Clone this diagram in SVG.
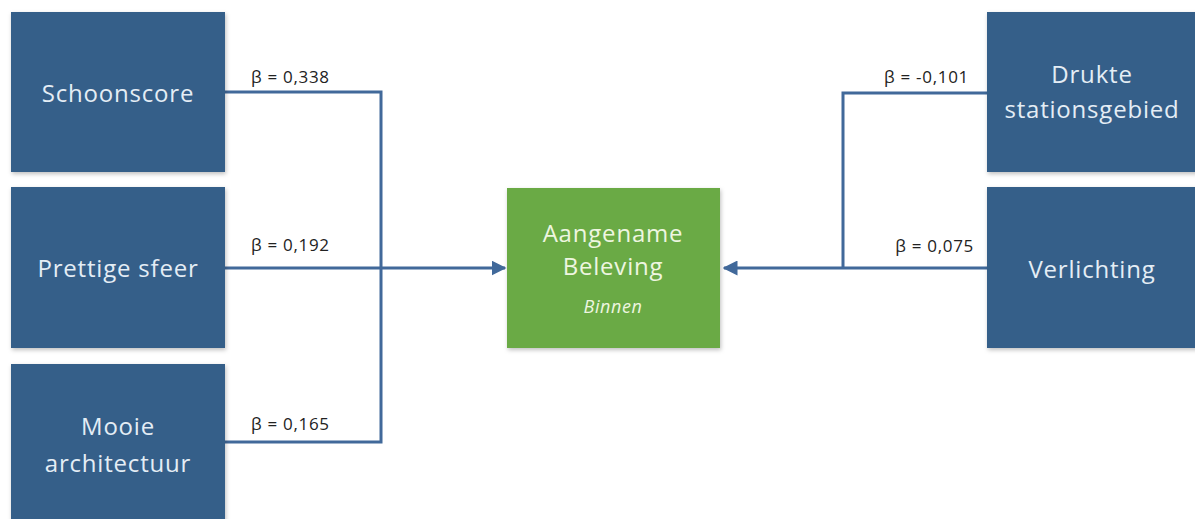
<svg xmlns="http://www.w3.org/2000/svg" width="1195" height="519" viewBox="0 0 1195 519">
<style>
.box{fill:#365F89;}
.green{fill:#6BAA45;}
.t{font-family:"Open Sans","Liberation Sans",sans-serif;font-size:24px;letter-spacing:0.8px;fill:#E4EDF5;text-anchor:middle;}
.tg{font-family:"Open Sans","Liberation Sans",sans-serif;font-size:24px;letter-spacing:0.8px;fill:#EEF6E0;text-anchor:middle;}
.ti{font-family:"Open Sans","Liberation Sans",sans-serif;font-size:18px;letter-spacing:0.6px;font-style:italic;fill:#EEF6E0;text-anchor:middle;}
.lbl{font-family:"Open Sans","Liberation Sans",sans-serif;font-size:17px;letter-spacing:0.7px;fill:#222;}
.c{fill:none;stroke:#41699A;stroke-width:3;}
</style>
<defs>
<filter id="sh" x="-10%" y="-10%" width="120%" height="120%">
<feDropShadow dx="1" dy="2" stdDeviation="2" flood-color="#000" flood-opacity="0.25"/>
</filter>
<marker id="ah" viewBox="0 0 10 10" refX="9" refY="5" markerWidth="5" markerHeight="5" markerUnits="strokeWidth" orient="auto">
<path d="M0,0 L10,5 L0,10 z" fill="#41699A"/>
</marker>
</defs>
<g id="connectors">
<polyline class="c" points="225,92 381,92 381,442 225,442"/>
<line class="c" x1="225" y1="268" x2="505" y2="268" marker-end="url(#ah)"/>
<polyline class="c" points="987,93 843,93 843,268"/>
<line class="c" x1="987" y1="268" x2="724" y2="268" marker-end="url(#ah)"/>
<text class="lbl" x="251" y="83">β = 0,338</text>
<text class="lbl" x="251" y="251">β = 0,192</text>
<text class="lbl" x="251" y="430">β = 0,165</text>
<text class="lbl" x="969" y="83" text-anchor="end">β = -0,101</text>
<text class="lbl" x="974" y="252" text-anchor="end">β = 0,075</text>
</g>
<g id="schoonscore">
<rect class="box" x="11" y="12" width="214" height="160" filter="url(#sh)"/>
<text class="t" x="118" y="102">Schoonscore</text>
</g>
<g id="prettige-sfeer">
<rect class="box" x="11" y="187" width="214" height="161" filter="url(#sh)"/>
<text class="t" x="118" y="277">Prettige sfeer</text>
</g>
<g id="mooie-architectuur">
<rect class="box" x="11" y="364" width="214" height="170" filter="url(#sh)"/>
<text class="t" x="118" y="435">Mooie</text>
<text class="t" x="118" y="472">architectuur</text>
</g>
<g id="aangename-beleving">
<rect class="green" x="507" y="188" width="213" height="160" filter="url(#sh)"/>
<text class="tg" x="613" y="242">Aangename</text>
<text class="tg" x="613" y="275">Beleving</text>
<text class="ti" x="613" y="313">Binnen</text>
</g>
<g id="drukte">
<rect class="box" x="987" y="12" width="220" height="160" filter="url(#sh)"/>
<text class="t" x="1092" y="83">Drukte</text>
<text class="t" x="1092" y="118">stationsgebied</text>
</g>
<g id="verlichting">
<rect class="box" x="987" y="187" width="220" height="161" filter="url(#sh)"/>
<text class="t" x="1092" y="278">Verlichting</text>
</g>
</svg>
